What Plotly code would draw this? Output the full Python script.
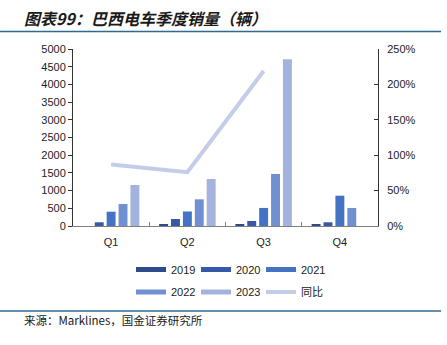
import plotly.graph_objects as go

quarters = ["Q1", "Q2", "Q3", "Q4"]
years = ["2019", "2020", "2021", "2022", "2023"]
sales_2019 = [0, 40, 30, 30]
sales_2020 = [105, 198, 141, 105]
sales_2021 = [404, 410, 510, 856]
sales_2022 = [621, 754, 1469, 510]
sales_2023 = [1158, 1328, 4710, None]
yoy = [0.87, 0.76, 2.19, None]

series = [sales_2019, sales_2020, sales_2021, sales_2022, sales_2023]
colors = ["#2E4B8C", "#3558A8", "#4472C4", "#7190D2", "#A3B3DD"]
line_color = "#C5CCE9"

W, H = 447, 345
L, R, T, B = 73, 69, 49, 119
pw = W - L - R
ph = H - T - B

font_main = "Arial, Liberation Sans, Noto Sans CJK SC, sans-serif"

fig = go.Figure()
for name, vals, c in zip(years, series, colors):
    fig.add_trace(go.Bar(x=quarters, y=vals, name=name, marker=dict(color=c, line=dict(width=0)),
                         showlegend=False, yaxis="y"))
fig.add_trace(go.Scatter(x=quarters, y=yoy, name="同比", mode="lines",
                         line=dict(color=line_color, width=4), yaxis="y2", showlegend=False))

# legend entries (line swatches)
for i, (name, c) in enumerate(zip(years, colors)):
    fig.add_trace(go.Scatter(x=[None], y=[None], name=name, mode="lines",
                             line=dict(color=c, width=5),
                             legend="legend" if i < 3 else "legend2"))
fig.add_trace(go.Scatter(x=[None], y=[None], name="同比", mode="lines",
                         line=dict(color=line_color, width=4), legend="legend2"))

leg_common = dict(orientation="h", xanchor="left", yanchor="middle",
                  entrywidth=20, itemwidth=30, font=dict(family=font_main, size=11, color="#222"),
                  bgcolor="rgba(0,0,0,0)", tracegroupgap=0)
lx = (131 - L) / pw

fig.update_layout(
    width=W, height=H,
    margin=dict(l=L, r=R, t=T, b=B, pad=0),
    paper_bgcolor="white", plot_bgcolor="white",
    barmode="group", bargap=0.22, bargroupgap=0.25,
    font=dict(family=font_main, size=11, color="#222"),
    xaxis=dict(type="category", categoryorder="array", categoryarray=quarters,
               showline=True, linecolor="#7f7f7f", linewidth=1,
               ticks="inside", ticklen=4, tickcolor="#7f7f7f", tickson="boundaries",
               ticklabelstandoff=6,
               tickfont=dict(size=11, color="#222"), showgrid=False, zeroline=False),
    yaxis=dict(range=[0, 5000], dtick=500, showline=True, linecolor="#333", linewidth=1,
               ticks="outside", ticklen=4, tickcolor="#333", showgrid=False, zeroline=False,
               tickfont=dict(size=11, color="#222")),
    yaxis2=dict(range=[0, 2.5], dtick=0.5, tickformat=".0%", overlaying="y", side="right",
                showline=True, linecolor="#333", linewidth=1, ticks="inside", ticklen=4,
                tickcolor="#333", showgrid=False, zeroline=False, ticklabelstandoff=6,
                tickfont=dict(size=11, color="#222")),
    legend=dict(x=lx, y=(226 - 269.5) / ph, **leg_common),
    legend2=dict(x=lx, y=(226 - 292) / ph, **leg_common),
    showlegend=True,
)

# title
fig.add_annotation(text="<b>图表99：巴西电车季度销量（辆）</b>", xref="paper", yref="paper",
                   x=(22 - L) / pw, y=(226 - 18) / ph, xanchor="left", yanchor="middle",
                   showarrow=False,
                   font=dict(family="Noto Sans CJK SC", size=16, color="#1a1a1a", style="italic"))
# footer
fig.add_annotation(text="来源：Marklines，国金证券研究所", xref="paper", yref="paper",
                   x=(22 - L) / pw, y=(226 - 320) / ph, xanchor="left", yanchor="middle",
                   showarrow=False,
                   font=dict(family="Noto Sans CJK SC", size=11.5, color="#1a1a1a"))
# rules
for py in (31.5, 311):
    fig.add_shape(type="line", xref="paper", yref="paper",
                  x0=(0 - L) / pw, x1=(441 - L) / pw, y0=(226 - py) / ph, y1=(226 - py) / ph,
                  line=dict(color="#2E6A94", width=1.5))

fig.write_html("out.html")
